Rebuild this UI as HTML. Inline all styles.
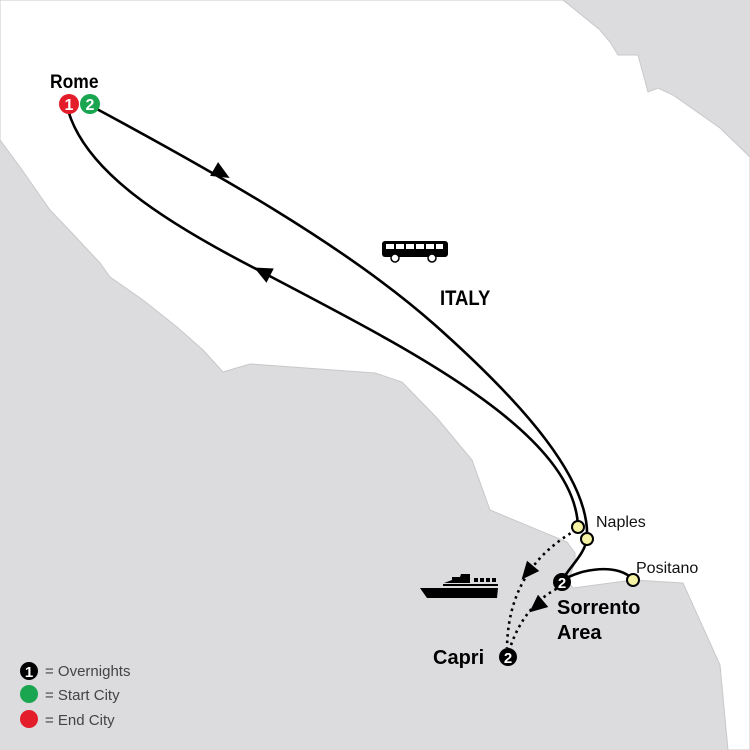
<!DOCTYPE html>
<html><head><meta charset="utf-8"><style>
html,body{margin:0;padding:0;width:750px;height:750px;overflow:hidden;background:#dcdcde}
svg{display:block}
</style></head><body>
<svg width="750" height="750" viewBox="0 0 750 750" xmlns="http://www.w3.org/2000/svg" font-family="Liberation Sans, sans-serif">
<rect width="750" height="750" fill="#dcdcde"/>
<polygon fill="#fff" stroke="#c8c8ca" stroke-width="1" points="563,0 600,30 610,42 618,55 638,55 648,92 658,88 673,95 720,128 750,157 750,750 728,750 720,665 683,583 633,580 573,588 568,582 575,562 575,553 567,542 490,510 472,460 437,418 402,382 375,373 250,364 223,372 203,350 177,327 143,300 110,277 100,263 72,233 50,210 20,167 0,140 0,0"/>
<!-- outbound -->
<path d="M95,108 C210,170 345,245 435,325 C525,405 590,480 587,538" fill="none" stroke="#000" stroke-width="2.6"/>
<!-- return -->
<path d="M68,110 C85,170 160,220 262,272 C400,345 575,430 578,527" fill="none" stroke="#000" stroke-width="2.6"/>
<polygon points="-8,-8 10,0 -8,8" fill="#000" transform="translate(221,173) rotate(30)"/>
<polygon points="-8,-8 10,0 -8,8" fill="#000" transform="translate(263,272) rotate(207)"/>
<!-- Naples to Sorrento -->
<path d="M587,538 C585,555 568,568 562,581" fill="none" stroke="#000" stroke-width="2.6"/>
<path d="M562,581 C580,568 620,563 633,580" fill="none" stroke="#000" stroke-width="2.6"/>
<!-- ferry dotted -->
<path d="M576,530 C545,548 508,580 507,648" fill="none" stroke="#000" stroke-width="2.6" stroke-dasharray="2.5,4"/>
<path d="M511,645 C520,620 535,600 558,588" fill="none" stroke="#000" stroke-width="2.6" stroke-dasharray="2.5,4"/>
<polygon points="-8,-8 10,0 -8,8" fill="#000" transform="translate(528,572) rotate(130)"/>
<polygon points="-8,-8 10,0 -8,8" fill="#000" transform="translate(537,606) rotate(140)"/>
<!-- markers -->
<circle cx="578" cy="527" r="6" fill="#f7f3a4" stroke="#000" stroke-width="2"/>
<circle cx="587" cy="539" r="6" fill="#f7f3a4" stroke="#000" stroke-width="2"/>
<circle cx="633" cy="580" r="6" fill="#f7f3a4" stroke="#000" stroke-width="2"/>
<circle cx="562" cy="582" r="9" fill="#000"/>
<text x="562" y="588" fill="#fff" font-size="15" font-weight="bold" text-anchor="middle">2</text>
<circle cx="508" cy="657" r="9" fill="#000"/>
<text x="508" y="663" fill="#fff" font-size="15" font-weight="bold" text-anchor="middle">2</text>
<circle cx="90" cy="104" r="10" fill="#1aa550"/>
<text x="90" y="110" fill="#fff" font-size="16" font-weight="bold" text-anchor="middle">2</text>
<circle cx="69" cy="104" r="10" fill="#e41d2a"/>
<text x="69" y="110" fill="#fff" font-size="16" font-weight="bold" text-anchor="middle">1</text>
<!-- labels -->
<text x="50" y="88" font-size="19" font-weight="bold" fill="#000" transform="translate(50,0) scale(0.92,1) translate(-50,0)">Rome</text>
<text x="440" y="305" font-size="21" font-weight="bold" fill="#000" transform="translate(440,0) scale(0.88,1) translate(-440,0)">ITALY</text>
<text x="596" y="527" font-size="16" fill="#111">Naples</text>
<text x="636" y="573" font-size="16" fill="#111">Positano</text>
<text x="557" y="614" font-size="20" font-weight="bold" fill="#000">Sorrento</text>
<text x="557" y="639" font-size="20" font-weight="bold" fill="#000">Area</text>
<text x="433" y="664" font-size="20" font-weight="bold" fill="#000">Capri</text>
<!-- bus -->
<rect x="382" y="241" width="66" height="16" rx="3" fill="#000"/>
<g fill="#fff"><rect x="386" y="244" width="8" height="5"/><rect x="396" y="244" width="8" height="5"/><rect x="406" y="244" width="8" height="5"/><rect x="416" y="244" width="8" height="5"/><rect x="426" y="244" width="8" height="5"/><rect x="436" y="244" width="7" height="5"/></g>
<circle cx="395" cy="258" r="4" fill="#fff" stroke="#000" stroke-width="1.5"/>
<circle cx="432" cy="258" r="4" fill="#fff" stroke="#000" stroke-width="1.5"/>
<!-- ship -->
<polygon points="420,588 498,588 497,598 427,598" fill="#000"/>
<rect x="443" y="584" width="55" height="2" fill="#000"/>
<polygon points="444,583 452,580 452,577 460,577 461,574 470,574 470,583" fill="#000"/>
<g fill="#000"><rect x="474" y="578" width="4" height="4"/><rect x="480" y="578" width="4" height="4"/><rect x="486" y="578" width="4" height="4"/><rect x="492" y="578" width="4" height="4"/></g>
<!-- legend -->
<circle cx="29" cy="671" r="9" fill="#000"/>
<text x="29" y="677" fill="#fff" font-size="15" font-weight="bold" text-anchor="middle">1</text>
<circle cx="29" cy="694" r="9" fill="#1aa550"/>
<circle cx="29" cy="719" r="9" fill="#e41d2a"/>
<g font-size="15" fill="#444">
<text x="45" y="676">=  Overnights</text>
<text x="45" y="700">=  Start City</text>
<text x="45" y="725">=  End City</text>
</g>
</svg>
</body></html>
